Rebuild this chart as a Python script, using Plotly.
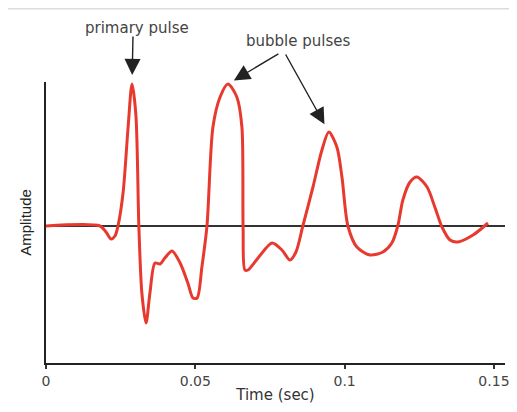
import plotly.graph_objects as go

# Time (s) and amplitude (arbitrary units)
time_s = [0.0, 0.0181, 0.0201, 0.0218, 0.0231, 0.0241, 0.0258, 0.0275, 0.0288, 0.0301,
          0.0311, 0.0321, 0.0335, 0.0348, 0.0365, 0.0382, 0.0398, 0.0422, 0.0449, 0.0475,
          0.0492, 0.0506, 0.0522, 0.0539, 0.0559, 0.0583, 0.0609, 0.0639, 0.0656, 0.0660,
          0.0666, 0.0676, 0.0710, 0.0757, 0.0790, 0.0817, 0.0837, 0.0860, 0.0894, 0.0924,
          0.0947, 0.0974, 0.0991, 0.1011, 0.1041, 0.1085, 0.1128, 0.1158, 0.1178, 0.1195,
          0.1219, 0.1242, 0.1276, 0.1302, 0.1326, 0.1353, 0.1379, 0.1430, 0.1480]
amplitude = [0.0, 0.0, -0.06, -0.13, -0.10, 0.0, 0.33, 0.99, 1.42, 1.11,
             -0.01, -0.67, -0.97, -0.67, -0.37, -0.38, -0.32, -0.25, -0.37, -0.57,
             -0.72, -0.72, -0.41, 0.0, 0.99, 1.29, 1.42, 1.29, 0.99, -0.01,
             -0.44, -0.44, -0.32, -0.17, -0.24, -0.34, -0.26, 0.0, 0.39, 0.76,
             0.94, 0.79, 0.49, 0.0, -0.21, -0.29, -0.26, -0.17, 0.0, 0.26,
             0.44, 0.49, 0.39, 0.19, -0.01, -0.14, -0.16, -0.09, 0.03]

x_tick_vals = [0, 0.05, 0.1, 0.15]
x_tick_text = ["0", "0.05", "0.1", "0.15"]

FONT = "DejaVu Sans, Verdana, sans-serif"
FONT_Y = "Liberation Sans, Arial, sans-serif"

# local maxima above threshold -> primary pulse and bubble pulses
peaks = [i for i in range(1, len(amplitude) - 1)
         if amplitude[i] > amplitude[i - 1] and amplitude[i] >= amplitude[i + 1] and amplitude[i] > 0.8]
p_primary, p_bubble1, p_bubble2 = peaks[0], peaks[1], peaks[2]

fig = go.Figure()
fig.add_trace(go.Scatter(
    x=time_s, y=amplitude, mode="lines",
    line=dict(color="#e8392f", width=3, shape="spline", smoothing=0.8),
    hoverinfo="skip", showlegend=False,
))

arrow_common = dict(showarrow=True, arrowhead=2, arrowsize=2.3, arrowwidth=1.4,
                    arrowcolor="#222", text="", axref="pixel", ayref="pixel")
label_font = dict(family=FONT, size=15, color="#444")
annotations = [
    dict(x=time_s[p_primary], y=amplitude[p_primary], ax=1, ay=-49, standoff=9, **arrow_common),
    dict(x=time_s[p_bubble1], y=amplitude[p_bubble1], ax=52, ay=-31, standoff=7, **arrow_common),
    dict(x=time_s[p_bubble2], y=amplitude[p_bubble2], ax=-44, ay=-79, standoff=9, **arrow_common),
    dict(x=time_s[p_primary], y=amplitude[p_primary], ax=5, ay=-56, text="primary pulse",
         showarrow=True, arrowcolor="rgba(0,0,0,0)", axref="pixel", ayref="pixel", font=label_font),
    dict(x=time_s[p_bubble1], y=amplitude[p_bubble1], ax=70, ay=-43, text="bubble pulses",
         showarrow=True, arrowcolor="rgba(0,0,0,0)", axref="pixel", ayref="pixel", font=label_font),
]

# page has an 8px body margin, so the figure is 509x404 to fill the 517x412 window
fig.update_layout(
    width=509, height=404,
    margin=dict(l=38, r=12, t=74, b=49),
    paper_bgcolor="white", plot_bgcolor="white",
    font=dict(family=FONT, size=14, color="#444"),
    annotations=annotations,
    shapes=[dict(type="line", xref="paper", yref="paper", x0=-0.083, x1=1.03,
                 y0=1.2616, y1=1.2616, line=dict(color="#dcdcdc", width=2))],
)
fig.update_xaxes(
    range=[0, 0.1537], showgrid=False, zeroline=False, automargin=False,
    showline=True, linecolor="#222", linewidth=2,
    ticks="outside", ticklen=4, tickwidth=2, tickcolor="#333",
    tickvals=x_tick_vals, ticktext=x_tick_text,
    tickfont=dict(family=FONT, size=14, color="#444"),
    title=dict(text="Time (sec)", font=dict(family=FONT, size=15, color="#333"), standoff=2),
)
fig.update_yaxes(
    range=[-1.37, 1.44], showgrid=False, showticklabels=False, ticks="", automargin=False,
    showline=True, linecolor="#222", linewidth=2,
    zeroline=True, zerolinecolor="#333", zerolinewidth=2,
    title=dict(text="Amplitude", font=dict(family=FONT_Y, size=15, color="#222"), standoff=9),
)

fig.write_html("out.html")
